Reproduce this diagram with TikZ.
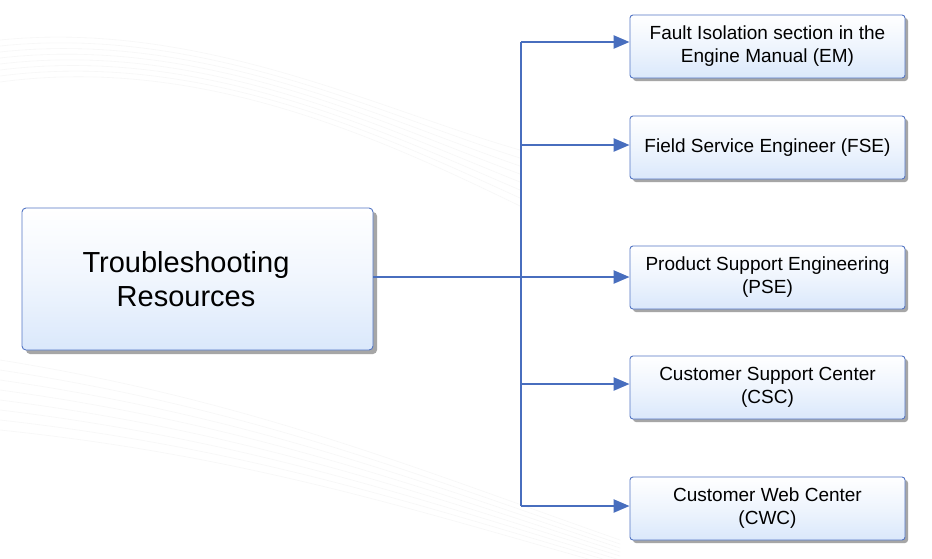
\documentclass[tikz,border=0pt]{standalone}
\usepackage{fontspec}
\setmainfont{Liberation Sans}
\usetikzlibrary{arrows.meta,shadows}
\definecolor{edgeblue}{RGB}{72,110,190}
\definecolor{boxborder}{RGB}{84,118,196}
\definecolor{fillbot}{RGB}{218,232,251}
\tikzset{
  rbox/.style={draw=boxborder, line width=0.9pt, rounded corners=3pt,
    top color=white, bottom color=fillbot, middle color=white!55!fillbot,
    minimum width=275pt, minimum height=63pt, align=center,
    font=\fontsize{19}{23}\selectfont, inner sep=0pt,
    drop shadow={shadow xshift=3pt, shadow yshift=-3pt, fill=black!35, opacity=1}},
  mainbox/.style={draw=boxborder, line width=0.9pt, rounded corners=4pt,
    top color=white, bottom color=fillbot, middle color=white!60!fillbot,
    minimum width=351pt, minimum height=142pt, inner sep=0pt,
    drop shadow={shadow xshift=4pt, shadow yshift=-4pt, fill=black!35, opacity=1}},
  conn/.style={draw=edgeblue, line width=2.4pt},
  arr/.style={conn, -{Triangle[length=16pt,width=13pt]}}
}
\begin{document}
\begin{tikzpicture}[x=1pt,y=-1pt]
\useasboundingbox (0,0) rectangle (932,558);
\fill[white] (0,0) rectangle (932,558);
% faint background swooshes
\foreach \i in {0,...,7}{
  \draw[black!3, line width=0.6pt] (0,{40+\i*6}) .. controls (200,{20+\i*5}) and (380,{110+\i*4}) .. (520,{150+\i*8});
  \draw[black!3, line width=0.6pt] (0,{360+\i*10}) .. controls (250,{400+\i*8}) and (420,{470+\i*6}) .. (620,{540+\i*4});
}
\node[mainbox] (main) at (197.5,279) {};
\node[font=\fontsize{29}{34}\selectfont, align=center] (maintxt) at (186,279) {Troubleshooting\\Resources};
\node[rbox] (em) at (767.5,46.5) {Fault Isolation section in the\\Engine Manual (EM)};
\node[rbox] (fse) at (767.5,147.5) {Field Service Engineer (FSE)};
\node[rbox] (pse) at (767.5,277.5) {Product Support Engineering\\(PSE)};
\node[rbox] (csc) at (767.5,387.5) {Customer Support Center\\(CSC)};
\node[rbox] (cwc) at (767.5,508.5) {Customer Web Center\\(CWC)};
\coordinate (jt) at (521,42);
\coordinate (jf) at (521,145);
\coordinate (jp) at (521,277);
\coordinate (jc) at (521,384);
\coordinate (jw) at (521,506);
\draw[conn] (main.east |- jp) -- (jp);
\draw[conn] (jt) -- (jw);
\draw[arr] (jt) -- (em.west |- jt);
\draw[arr] (jf) -- (fse.west |- jf);
\draw[arr] (jp) -- (pse.west |- jp);
\draw[arr] (jc) -- (csc.west |- jc);
\draw[arr] (jw) -- (cwc.west |- jw);
\end{tikzpicture}
\end{document}
